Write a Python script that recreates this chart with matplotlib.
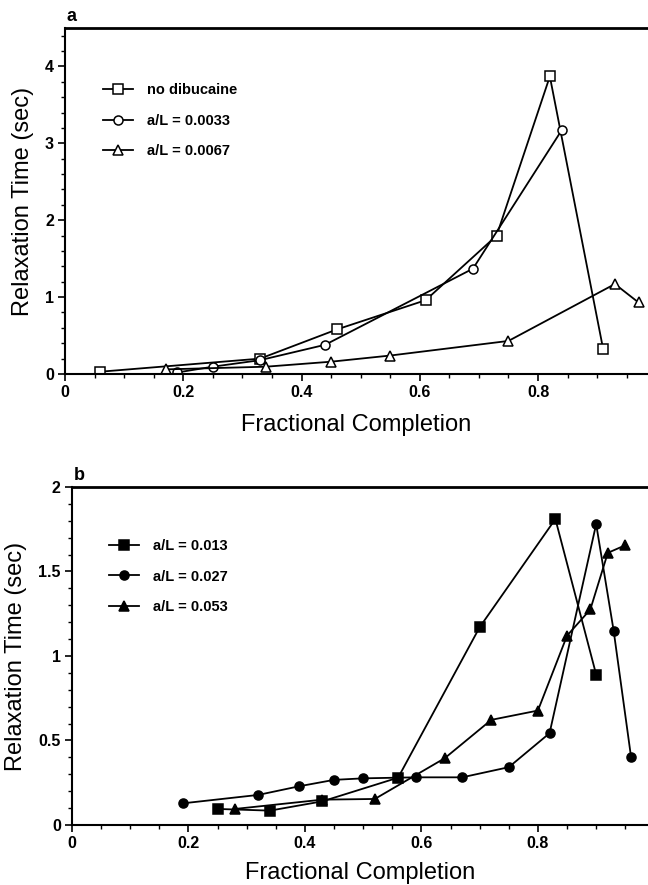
import numpy as np
import matplotlib
matplotlib.use("Agg")
from matplotlib import pyplot as plt
from matplotlib.ticker import MultipleLocator, FuncFormatter

plt.rcParams['font.family'] = ['Liberation Sans', 'DejaVu Sans']

# panel a
a_sq_x = [0.06, 0.33, 0.46, 0.61, 0.73, 0.82, 0.91]
a_sq_y = [0.03, 0.20, 0.58, 0.96, 1.80, 3.87, 0.33]
a_ci_x = [0.19, 0.25, 0.33, 0.44, 0.69, 0.84]
a_ci_y = [0.02, 0.095, 0.18, 0.38, 1.37, 3.17]
a_tr_x = [0.17, 0.34, 0.45, 0.55, 0.75, 0.93, 0.97]
a_tr_y = [0.06, 0.095, 0.16, 0.24, 0.43, 1.17, 0.93]
a_labels = ["no dibucaine", "a/L = 0.0033", "a/L = 0.0067"]

# panel b
b_sq_x = [0.25, 0.34, 0.43, 0.56, 0.70, 0.83, 0.90]
b_sq_y = [0.095, 0.085, 0.14, 0.28, 1.17, 1.81, 0.89]
b_ci_x = [0.19, 0.32, 0.39, 0.45, 0.50, 0.59, 0.67, 0.75, 0.82, 0.90, 0.93, 0.96]
b_ci_y = [0.128, 0.178, 0.229, 0.267, 0.276, 0.282, 0.282, 0.342, 0.543, 1.78, 1.15, 0.40]
b_tr_x = [0.28, 0.43, 0.52, 0.64, 0.72, 0.80, 0.85, 0.89, 0.92, 0.95]
b_tr_y = [0.095, 0.15, 0.154, 0.395, 0.622, 0.677, 1.12, 1.275, 1.61, 1.655]
b_labels = ["a/L = 0.013", "a/L = 0.027", "a/L = 0.053"]

xticks = [0, 0.2, 0.4, 0.6, 0.8]
xtick_labels = ['0', '0.2', '0.4', '0.6', '0.8']

fig = plt.figure(figsize=(6.48, 8.85), dpi=100)
ax1 = fig.add_axes([0.1003, 0.5774, 0.8997, 0.391])
ax2 = fig.add_axes([0.111, 0.0678, 0.889, 0.382])


def style(ax, ymax, ymaj, ymin, xmax, letter, lpad):
    ax.set_xlim(0, xmax)
    ax.set_ylim(0, ymax)
    ax.spines['right'].set_visible(False)
    ax.spines['top'].set_linewidth(2.0)
    ax.spines['left'].set_linewidth(1.5)
    ax.spines['bottom'].set_linewidth(1.5)
    ax.set_xticks(xticks)
    ax.set_xticklabels(xtick_labels, fontweight='bold')
    ax.xaxis.set_minor_locator(MultipleLocator(0.05))
    ax.yaxis.set_major_locator(MultipleLocator(ymaj))
    ax.yaxis.set_minor_locator(MultipleLocator(ymin))
    ax.yaxis.set_major_formatter(FuncFormatter(lambda v, p: f"{v:g}"))
    ax.tick_params(which='major', direction='out', length=5, width=1.2,
                   labelsize=11.5, pad=3)
    ax.tick_params(which='minor', direction='out', length=3, width=1.0)
    ax.tick_params(top=False, right=False)
    for t in ax.get_yticklabels():
        t.set_fontweight('bold')
    ax.set_xlabel("Fractional Completion", fontsize=17, labelpad=lpad)
    ax.set_ylabel("Relaxation Time (sec)", fontsize=17, labelpad=8)
    ax.text(0.003, 1.008, letter, transform=ax.transAxes, fontsize=13,
            fontweight='bold', va='bottom', ha='left')


kw = dict(color='black', linewidth=1.3, markersize=6.5, markeredgewidth=1.1)
ax1.plot(a_sq_x, a_sq_y, marker='s', mfc='white', label=a_labels[0], **kw)
ax1.plot(a_ci_x, a_ci_y, marker='o', mfc='white', label=a_labels[1], **kw)
ax1.plot(a_tr_x, a_tr_y, marker='^', mfc='white', label=a_labels[2], **kw)

ax2.plot(b_sq_x, b_sq_y, marker='s', mfc='black', label=b_labels[0], **kw)
ax2.plot(b_ci_x, b_ci_y, marker='o', mfc='black', label=b_labels[1], **kw)
ax2.plot(b_tr_x, b_tr_y, marker='^', mfc='black', label=b_labels[2], **kw)

style(ax1, 4.5, 1, 0.2, 0.986, 'a', 10)
style(ax2, 2.0, 0.5, 0.1, 0.989, 'b', 8)

leg_kw = dict(frameon=False, fontsize=10.5, handlelength=2.05, handletextpad=1.0,
              labelspacing=1.15, loc='upper left', borderaxespad=0)
leg1 = ax1.legend(bbox_to_anchor=(0.055, 0.858), **leg_kw)
leg2 = ax2.legend(bbox_to_anchor=(0.054, 0.864), **leg_kw)
for leg in (leg1, leg2):
    for t in leg.get_texts():
        t.set_fontweight('bold')

fig.savefig("out.png", dpi=100)
